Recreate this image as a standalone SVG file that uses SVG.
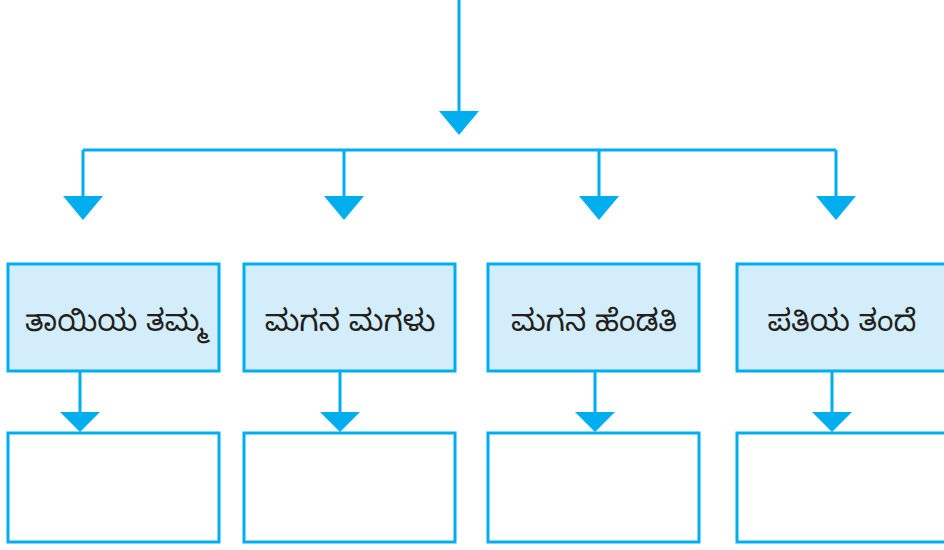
<svg xmlns="http://www.w3.org/2000/svg" width="944" height="550" viewBox="0 0 944 550">
<style>
.ln{stroke:#00AEEF;stroke-width:3;fill:none}
.hd{fill:#00AEEF}
.bx{fill:#D3EEFA;stroke:#00AEEF;stroke-width:3}
.eb{fill:#FFFFFF;stroke:#00AEEF;stroke-width:3}
.t{font-family:"Noto Sans Kannada","Noto Sans","DejaVu Sans",sans-serif;font-size:30px;fill:#231F20;text-anchor:middle}
</style>
<rect width="944" height="550" fill="#FFFFFF"/>
<g id="connectors">
<path class="ln" d="M459,0 V115 M83,150 H836 M83,150 V200 M344,150 V200 M599,150 V200 M836,150 V200 M80,371 V416 M340,371 V416 M595,371 V416 M832,371 V416"/>
<path class="hd" d="M439,111 L479,111 L459,135 Z M63,196 L103,196 L83,220 Z M324,196 L364,196 L344,220 Z M579,196 L619,196 L599,220 Z M816,196 L856,196 L836,220 Z M60,412 L100,412 L80,432 Z M320,412 L360,412 L340,432 Z M575,412 L615,412 L595,432 Z M812,412 L852,412 L832,432 Z"/>
</g>
<g id="n1"><rect class="bx" x="8" y="264" width="211" height="107"/><text class="t" x="116" y="331">ತಾಯಿಯ ತಮ್ಮ</text></g>
<g id="n2"><rect class="bx" x="244" y="264" width="211" height="107"/><text class="t" x="350" y="331">ಮಗನ ಮಗಳು</text></g>
<g id="n3"><rect class="bx" x="488" y="264" width="211" height="107"/><text class="t" x="594" y="331">ಮಗನ ಹೆಂಡತಿ</text></g>
<g id="n4"><rect class="bx" x="737" y="264" width="220" height="107"/><text class="t" x="842" y="331">ಪತಿಯ ತಂದೆ</text></g>
<g id="e1"><rect class="eb" x="8" y="433" width="211" height="109"/></g>
<g id="e2"><rect class="eb" x="244" y="433" width="211" height="109"/></g>
<g id="e3"><rect class="eb" x="488" y="433" width="211" height="109"/></g>
<g id="e4"><rect class="eb" x="737" y="433" width="220" height="109"/></g>
</svg>
